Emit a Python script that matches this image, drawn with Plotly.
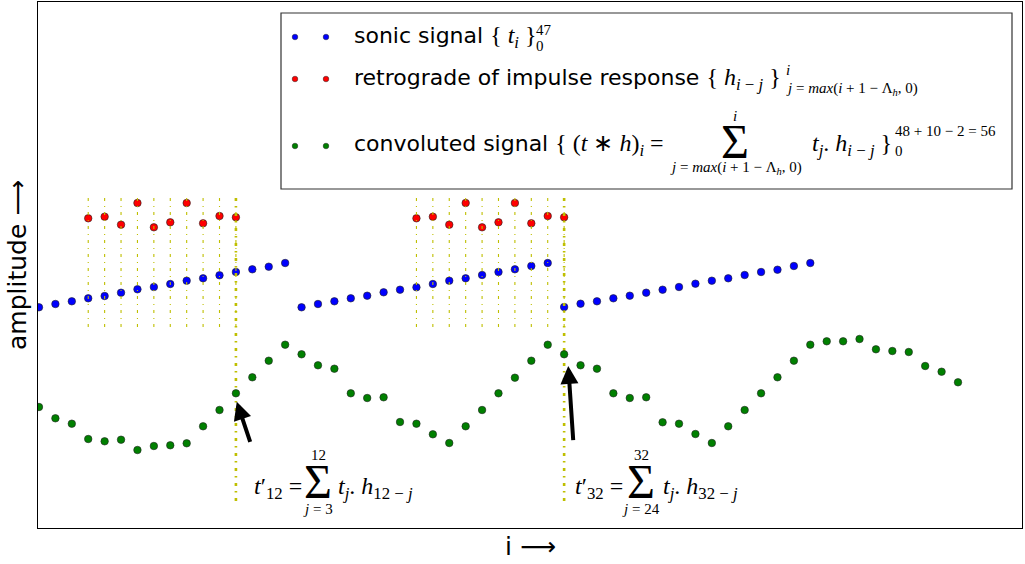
import plotly.graph_objects as go

# ---------------- data ----------------
idx_sonic = list(range(48))
sonic = [2.207, 2.240, 2.267, 2.297, 2.320, 2.353, 2.387, 2.410, 2.440, 2.473, 2.497, 2.527,
         2.560, 2.587, 2.613, 2.650,
         2.207, 2.240, 2.267, 2.297, 2.323, 2.357, 2.383, 2.407, 2.440, 2.473, 2.497, 2.530,
         2.560, 2.587, 2.620, 2.650,
         2.210, 2.243, 2.267, 2.297, 2.323, 2.353, 2.383, 2.410, 2.443, 2.473, 2.497, 2.530,
         2.560, 2.583, 2.620, 2.650]

idx_conv = list(range(57))
conv = [1.210, 1.097, 1.043, 0.890, 0.867, 0.883, 0.780, 0.820, 0.827, 0.847, 1.017, 1.180,
        1.347, 1.507, 1.673, 1.833, 1.737, 1.627, 1.593, 1.347, 1.300, 1.307, 1.060, 1.043,
        0.937, 0.850, 1.017, 1.180, 1.347, 1.503, 1.673, 1.833, 1.737, 1.627, 1.593, 1.347,
        1.300, 1.307, 1.057, 1.043, 0.940, 0.850, 1.017, 1.180, 1.347, 1.507, 1.673, 1.833,
        1.867, 1.867, 1.890, 1.787, 1.770, 1.760, 1.620, 1.563, 1.457]

# retrograde impulse response (10 taps), shown under two positions of i
h_retro = [3.097, 3.113, 3.033, 3.250, 3.007, 3.057, 3.250, 3.047, 3.120, 3.107]
focus_i = [12, 32]

# guide lines
line_top = 3.30
thin_bottom = 2.00
thick_bottom = 0.25

# arrows (head / tail)
arrow_head_x = [12.05, 32.25]
arrow_head_y = [1.263, 1.620]
arrow_tail_x = [12.90, 32.56]
arrow_tail_y = [0.847, 0.863]

BLUE = "#0000ff"
RED = "#ff0000"
GREEN = "#008000"
YEL = "#bfbf00"
SANS = "DejaVu Sans"
SERIF = "Liberation Serif"

fig = go.Figure()

# sonic signal
fig.add_trace(go.Scatter(x=idx_sonic, y=sonic, mode="markers",
                         marker=dict(color=BLUE, size=7.5, line=dict(color="#222", width=0.6)),
                         showlegend=False))

# retrograde impulse windows
for fi in focus_i:
    xs = list(range(fi - len(h_retro) + 1, fi + 1))
    fig.add_trace(go.Scatter(x=xs, y=h_retro, mode="markers",
                             marker=dict(color=RED, size=7.5, line=dict(color="#222", width=0.6)),
                             showlegend=False))

# thin dotted guides
for fi in focus_i:
    xs, ys = [], []
    for k in range(fi - len(h_retro) + 1, fi + 1):
        xs += [k, k, None]
        ys += [line_top, thin_bottom, None]
    fig.add_trace(go.Scatter(x=xs, y=ys, mode="lines",
                             line=dict(color=YEL, width=1.1, dash="3px,5px,1px,5px"),
                             showlegend=False, hoverinfo="skip"))
# thick guides
xs, ys = [], []
for fi in focus_i:
    xs += [fi, fi, None]
    ys += [line_top, thick_bottom, None]
fig.add_trace(go.Scatter(x=xs, y=ys, mode="lines",
                         line=dict(color=YEL, width=2.6, dash="3px,5px,1.5px,5.5px"),
                         showlegend=False, hoverinfo="skip"))

# convoluted signal
fig.add_trace(go.Scatter(x=idx_conv, y=conv, mode="markers",
                         marker=dict(color=GREEN, size=7.5, line=dict(color="#222", width=0.6)),
                         showlegend=False))

L, R, T, B = 38, 3, 2, 36
W, H = 1025, 564
PW = W - L - R
PH = H - T - B


def px(x, y):
    return (x - L) / PW, (T + PH - y) / PH


annotations = []


def txt(text, x, y, size, family, xanchor="left", yanchor="middle", angle=0, color="black"):
    xx, yy = px(x, y)
    annotations.append(dict(text=text, x=xx, y=yy, xref="paper", yref="paper",
                            xanchor=xanchor, yanchor=yanchor, showarrow=False,
                            textangle=angle, font=dict(family=family, size=size, color=color)))


def serif(s, size=None):
    st = f"font-family:{SERIF}"
    if size:
        st += f";font-size:{size}px"
    return f"<span style='{st}'>{s}</span>"


# arrows
for hx, hy, tx, ty in zip(arrow_head_x, arrow_head_y, arrow_tail_x, arrow_tail_y):
    annotations.append(dict(x=hx, y=hy, ax=tx, ay=ty, xref="x", yref="y", axref="x", ayref="y",
                            text="", showarrow=True, arrowhead=2, arrowsize=0.9,
                            arrowwidth=4, arrowcolor="black", standoff=0, startstandoff=0))

# bottom formulas
for (k, x0, sx, rx, lo) in [("12", 252, 318, 336, "3"), ("32", 573, 641, 661, "24")]:
    txt(f"<i>t</i>′<sub>{k}</sub> =", x0, 488, 24, SERIF)
    txt("Σ", sx, 481, 48, SERIF, xanchor="center")
    txt(k, sx, 455, 15, SERIF, xanchor="center")
    txt(f"<i>j</i> = {lo}", sx, 509, 15, SERIF, xanchor="center")
    txt(f"<i>t<sub>j</sub></i>. <i>h</i><sub>{k} − <i>j</i></sub>", rx, 488, 24, SERIF)

# axis labels
txt("amplitude ⟶", 17, 265, 25, SANS, xanchor="center", angle=-90)
txt("i ⟶", 530, 546, 25, SANS, xanchor="center")

# legend texts
txt("sonic signal " + serif("{ <i>t<sub>i</sub></i> }", 24), 352, 37, 22, SANS)
txt("47", 534, 30, 15, SERIF)
txt("0", 534, 46, 15, SERIF)

txt("retrograde of impulse response " + serif("{ <i>h</i><sub><i>i</i> − <i>j</i></sub> }", 24),
    352, 79, 22, SANS)
txt("<i>i</i>", 784, 70, 15, SERIF)
txt("<i>j</i> = <i>max</i>(<i>i</i> + 1 − Λ<sub><i>h</i></sub>, 0)", 784, 89, 15, SERIF)

txt("convoluted signal " + serif("{ (<i>t</i> ∗ <i>h</i>)<sub><i>i</i></sub> =", 24), 352, 145, 22, SANS)
txt("Σ", 735, 141, 48, SERIF, xanchor="center")
txt("<i>i</i>", 735, 116, 15, SERIF, xanchor="center")
txt("<i>j</i> = <i>max</i>(<i>i</i> + 1 − Λ<sub><i>h</i></sub>, 0)", 736, 168, 15, SERIF, xanchor="center")
txt("<i>t<sub>j</sub></i>. <i>h</i><sub><i>i</i> − <i>j</i></sub> }", 810, 145, 24, SERIF)
txt("48 + 10 − 2 = 56", 893, 131, 15, SERIF)
txt("0", 893, 151, 15, SERIF)

# legend box + dots
shapes = []
bx0, by0 = px(281, 13)
bx1, by1 = px(1012, 189)
shapes.append(dict(type="rect", xref="paper", yref="paper", x0=bx0, x1=bx1, y0=by1, y1=by0,
                   line=dict(color="#333", width=1.2), fillcolor="white", layer="above"))
for color, yy in [(BLUE, 37), (RED, 79), (GREEN, 146)]:
    for xx in (295, 326):
        ax_, ay_ = px(xx, yy)
        shapes.append(dict(type="circle", xref="paper", yref="paper", xsizemode="pixel",
                           ysizemode="pixel", xanchor=ax_, yanchor=ay_, x0=-2.8, x1=2.8,
                           y0=-2.8, y1=2.8, fillcolor=color, line=dict(color="#222", width=0.5),
                           layer="above"))

fig.update_layout(
    width=W, height=H,
    margin=dict(l=L, r=R, t=T, b=B),
    paper_bgcolor="white", plot_bgcolor="white",
    xaxis=dict(range=[-0.06, 59.9], showgrid=False, zeroline=False, showticklabels=False,
               ticks="", showline=True, mirror=True, linecolor="black", linewidth=1),
    yaxis=dict(range=[0, 5.26], showgrid=False, zeroline=False, showticklabels=False,
               ticks="", showline=True, mirror=True, linecolor="black", linewidth=1),
    annotations=annotations,
    shapes=shapes,
    showlegend=False,
)

fig.write_html("out.html", config={"displayModeBar": False},
               post_script="document.body.style.margin='0px';document.body.style.padding='0px';")
